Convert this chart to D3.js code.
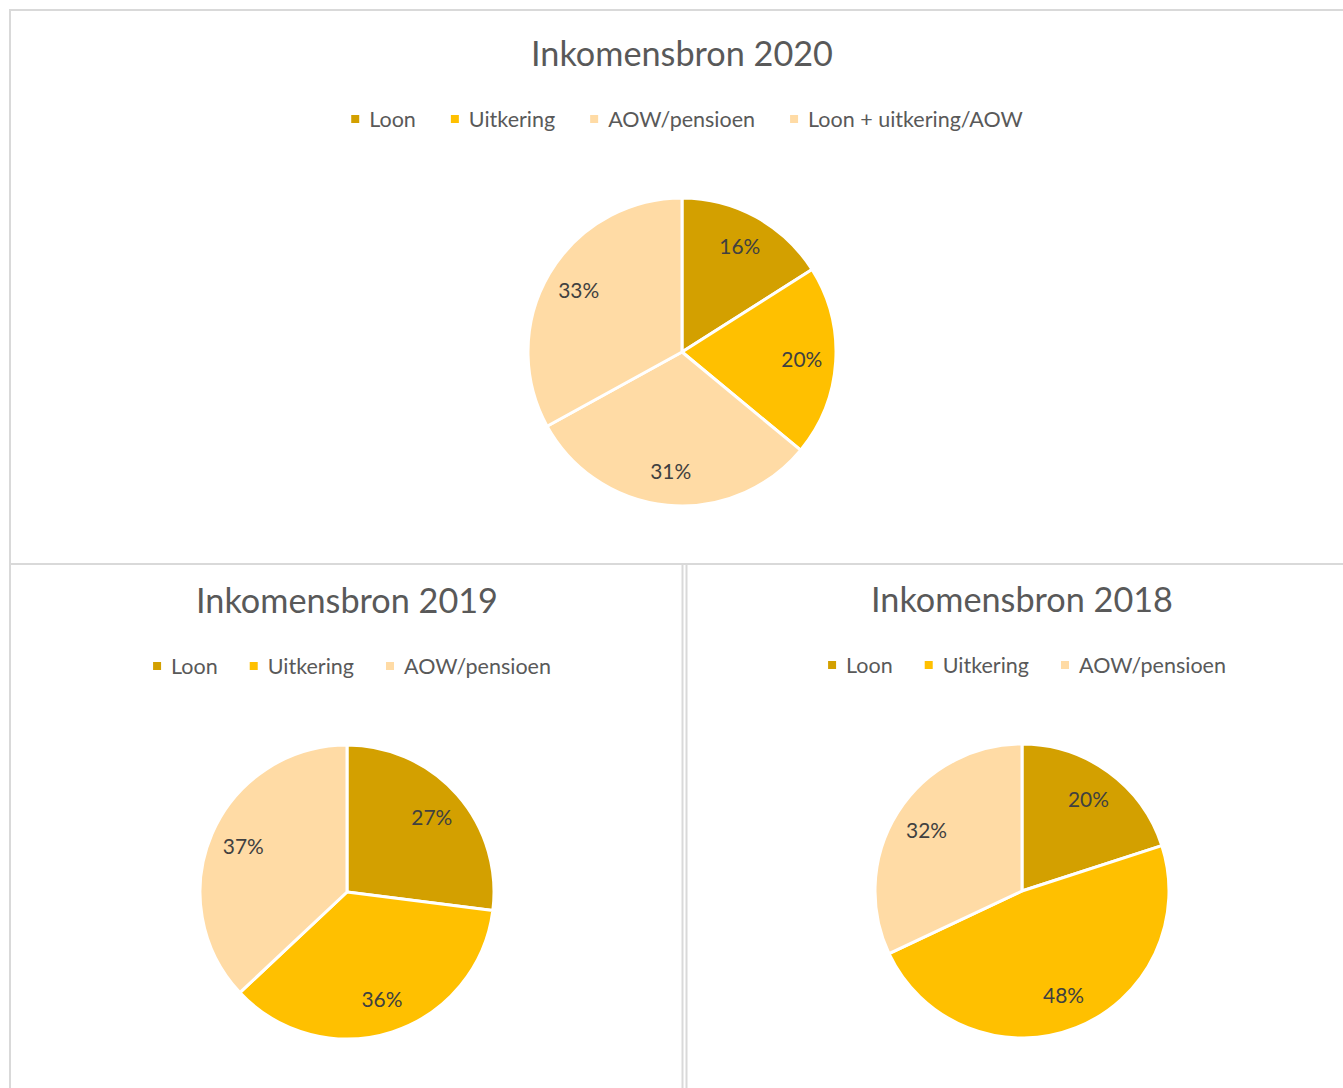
<!DOCTYPE html>
<html><head><meta charset="utf-8">
<script src="https://cdn.jsdelivr.net/npm/d3@7"></script>
<style>
html,body{margin:0;padding:0;background:#fff;}
svg{display:block;font-family:Lato, "Open Sans", sans-serif;}
</style></head>
<body>
<svg id="chart" width="1343" height="1088"></svg>
<script>
// ---- data ----
const categories2020 = ["Loon", "Uitkering", "AOW/pensioen", "Loon + uitkering/AOW"];
const values2020 = [16, 20, 31, 33];
const categories2019 = ["Loon", "Uitkering", "AOW/pensioen"];
const values2019 = [27, 36, 37];
const categories2018 = ["Loon", "Uitkering", "AOW/pensioen"];
const values2018 = [20, 48, 32];
const titles = ["Inkomensbron 2020", "Inkomensbron 2019", "Inkomensbron 2018"];
const sliceColors = ["#D3A000", "#FFC000", "#FFDBA5", "#FFDBA5"];

const svg = d3.select("#chart");

// font fitting helpers (match reference text widths)
function fitSize(str, target, weight) {
  const t = svg.append("text").attr("font-size", 100).attr("font-weight", weight || 400).text(str);
  const w = t.node().getComputedTextLength();
  t.remove();
  return 100 * target / w;
}
const titleSize = fitSize("Inkomensbron 2020", 302);
const legendSize = fitSize("AOW/pensioen", 147);
const labelSize = fitSize("16%", 41);

// panel borders
const panels = [
  {x: 10, y: 10, w: 1360, h: 554},
  {x: 10, y: 564, w: 672.5, h: 600},
  {x: 686.5, y: 564, w: 700, h: 600}
];
svg.selectAll("rect.panel").data(panels).join("rect")
  .attr("class", "panel")
  .attr("x", d => d.x).attr("y", d => d.y)
  .attr("width", d => d.w).attr("height", d => d.h)
  .attr("fill", "none").attr("stroke", "#d9d9d9").attr("stroke-width", 2);

const charts = [
  {title: titles[0], cats: categories2020, vals: values2020, cx: 682, cy: 352, r: 154, titleY: 66, legendY: 119, gap: 35},
  {title: titles[1], cats: categories2019, vals: values2019, cx: 347, cy: 892, r: 147, titleY: 613, legendY: 666, gap: 32},
  {title: titles[2], cats: categories2018, vals: values2018, cx: 1022, cy: 891, r: 147, titleY: 612, legendY: 665, gap: 32}
];

const pie = d3.pie().sort(null).value(d => d);

charts.forEach(c => {
  const g = svg.append("g");
  // title
  g.append("text")
    .attr("x", c.cx).attr("y", c.titleY)
    .attr("text-anchor", "middle")
    .attr("font-size", titleSize)
    .attr("fill", "#595959")
    .text(c.title);

  // pie
  const arc = d3.arc().innerRadius(0).outerRadius(c.r);
  const lr = c.r - 34;
  const labelArc = d3.arc().innerRadius(lr).outerRadius(lr);
  const pg = g.append("g").attr("transform", `translate(${c.cx},${c.cy})`);
  const arcs = pie(c.vals);
  pg.selectAll("path").data(arcs).join("path")
    .attr("d", arc)
    .attr("fill", (d, i) => sliceColors[i])
    .attr("stroke", "#fff").attr("stroke-width", 3).attr("stroke-linejoin", "round");
  pg.selectAll("text").data(arcs).join("text")
    .attr("transform", d => `translate(${labelArc.centroid(d)})`)
    .attr("text-anchor", "middle").attr("dy", "0.35em")
    .attr("font-size", labelSize).attr("fill", "#404040")
    .text(d => d.data + "%");

  // legend
  const lg = g.append("g");
  const items = lg.selectAll("g").data(c.cats).join("g");
  items.append("rect").attr("width", 8).attr("height", 8).attr("y", -4)
    .attr("fill", (d, i) => sliceColors[i]);
  items.append("text").attr("x", 18).attr("dy", "0.35em")
    .attr("font-size", legendSize).attr("fill", "#595959").text(d => d);
  let xpos = 0;
  items.each(function() {
    const w = d3.select(this).select("text").node().getComputedTextLength();
    d3.select(this).attr("transform", `translate(${xpos},0)`);
    xpos += 18 + w + c.gap;
  });
  const total = xpos - c.gap;
  lg.attr("transform", `translate(${c.cx + 5 - total / 2},${c.legendY})`);
});
</script>
</body></html>
